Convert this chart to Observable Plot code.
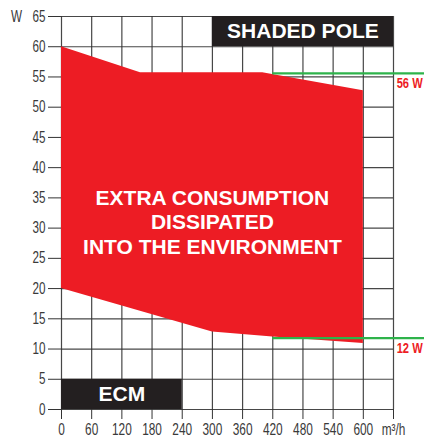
<!DOCTYPE html>
<html>
<head>
<meta charset="utf-8">
<script src="https://cdn.jsdelivr.net/npm/d3@7"></script>
<script src="https://cdn.jsdelivr.net/npm/@observablehq/plot@0.6"></script>
<style>
  html, body { margin: 0; padding: 0; background: #fff; }
  #chart svg { display: block; }
</style>
</head>
<body>
<div id="chart"></div>
<script>
// Axis ticks
const xTicks = [0, 60, 120, 180, 240, 300, 360, 420, 480, 540, 600, 660];
const yTicks = [0, 5, 10, 15, 20, 25, 30, 35, 40, 45, 50, 55, 60, 65];
const xUnitLabel = "m³/h";
const yUnitLabel = "W";

// Shaded pole consumption (upper edge of the red area)
const shadedX = [0, 157, 400, 600];
const shadedW = [60, 55.7, 55.7, 52.7];

// ECM consumption (lower edge of the red area)
const ecmX = [0, 300, 420, 600];
const ecmW = [20, 12.8, 12.0, 10.9];

// Reference levels
const refLabels = ["56 W", "12 W"];
const refValues = [55.6, 11.8];
const refStart = [420, 420];

// Labels
const areaLines = ["EXTRA CONSUMPTION", "DISSIPATED", "INTO THE ENVIRONMENT"];
const areaLineY = [35.0, 31.0, 26.8];
const boxLabels = ["SHADED POLE", "ECM"];
const boxX1 = [300, 0];
const boxX2 = [660, 240];
const boxY1 = [60, 0];
const boxY2 = [65, 5];

const tickFont = "'Liberation Sans', Arial, sans-serif";
const boldFont = "'Liberation Sans', Arial, sans-serif";

const idx4 = d3.range(shadedX.length);

const chart = Plot.plot({
  width: 424,
  height: 438,
  marginLeft: 61,
  marginRight: 31,
  marginTop: 16,
  marginBottom: 29,
  style: { fontFamily: tickFont, background: "#fff" },
  x: { domain: [0, 660] },
  y: { domain: [0, 65] },
  marks: [
    // grid
    Plot.ruleX(xTicks, { x: d => d, y1: 0, y2: 65, stroke: "#333", strokeWidth: 1.2, strokeOpacity: 0.9 }),
    Plot.ruleY(yTicks, { y: d => d, x1: 0, x2: 660, stroke: "#333", strokeWidth: 1.2, strokeOpacity: 0.9 }),
    // red area between shaded-pole and ECM curves
    Plot.area(idx4, {
      x1: i => shadedX[i], y1: i => shadedW[i],
      x2: i => ecmX[i], y2: i => ecmW[i],
      fill: "#ed1c24", fillOpacity: 1
    }),
    // black boxes
    Plot.rect(boxLabels, {
      x1: (d, i) => boxX1[i], x2: (d, i) => boxX2[i],
      y1: (d, i) => boxY1[i], y2: (d, i) => boxY2[i],
      fill: "#231f20"
    }),
    Plot.text(boxLabels, {
      x: (d, i) => (boxX1[i] + boxX2[i]) / 2,
      y: (d, i) => (boxY1[i] + boxY2[i]) / 2,
      text: d => d, fill: "#fff", fontSize: 21, fontWeight: "bold",
      fontFamily: boldFont
    }),
    // area text
    Plot.text(areaLines, {
      x: 300, y: (d, i) => areaLineY[i], text: d => d,
      fill: "#fff", fontSize: 21, fontWeight: "bold", fontFamily: boldFont
    }),
    // reference green lines
    Plot.ruleY(refValues, { y: d => d, x1: (d, i) => refStart[i], x2: 722, stroke: "#2eb34b", strokeWidth: 2.4 }),
    Plot.text(refLabels, {
      x: 718, y: (d, i) => refValues[i], dy: 10, text: d => d,
      textAnchor: "end", fill: "#ed1c24", fontSize: 15, fontWeight: "bold",
      fontFamily: tickFont, ariaLabel: () => "ref-label"
    }),
    // axes
    Plot.axisY({ ticks: yTicks, tickSize: 13, tickPadding: 3, label: null, fontSize: 16, fill: "#3a3a3a", stroke: "#333" }),
    Plot.axisX({ ticks: xTicks, tickSize: 10, tickPadding: 4, label: null, fontSize: 16, fill: "#3a3a3a", stroke: "#333",
      tickFormat: d => d === 660 ? xUnitLabel : String(d) }),
    Plot.text([yUnitLabel], { x: 0, y: 65, dx: -45, text: d => d, fontSize: 16, fill: "#3a3a3a", ariaLabel: () => "unit-label" })
  ]
});
document.getElementById("chart").appendChild(chart);

// condense the narrow-style labels
function squeeze(selector, factor, fixed) {
  chart.querySelectorAll(selector).forEach(t => {
    const w = t.getComputedTextLength();
    if (w > 0) {
      t.setAttribute("textLength", (fixed || w * factor).toFixed(2));
      t.setAttribute("lengthAdjust", "spacingAndGlyphs");
    }
  });
}
squeeze('g[aria-label="y-axis tick label"] text', 0.73);
squeeze('g[aria-label="x-axis tick label"] text', 0.74);
squeeze('text[aria-label="unit-label"], [aria-label="unit-label"] text', 0.73);
squeeze('text[aria-label="ref-label"], [aria-label="ref-label"] text', 1, 26);
</script>
</body>
</html>
